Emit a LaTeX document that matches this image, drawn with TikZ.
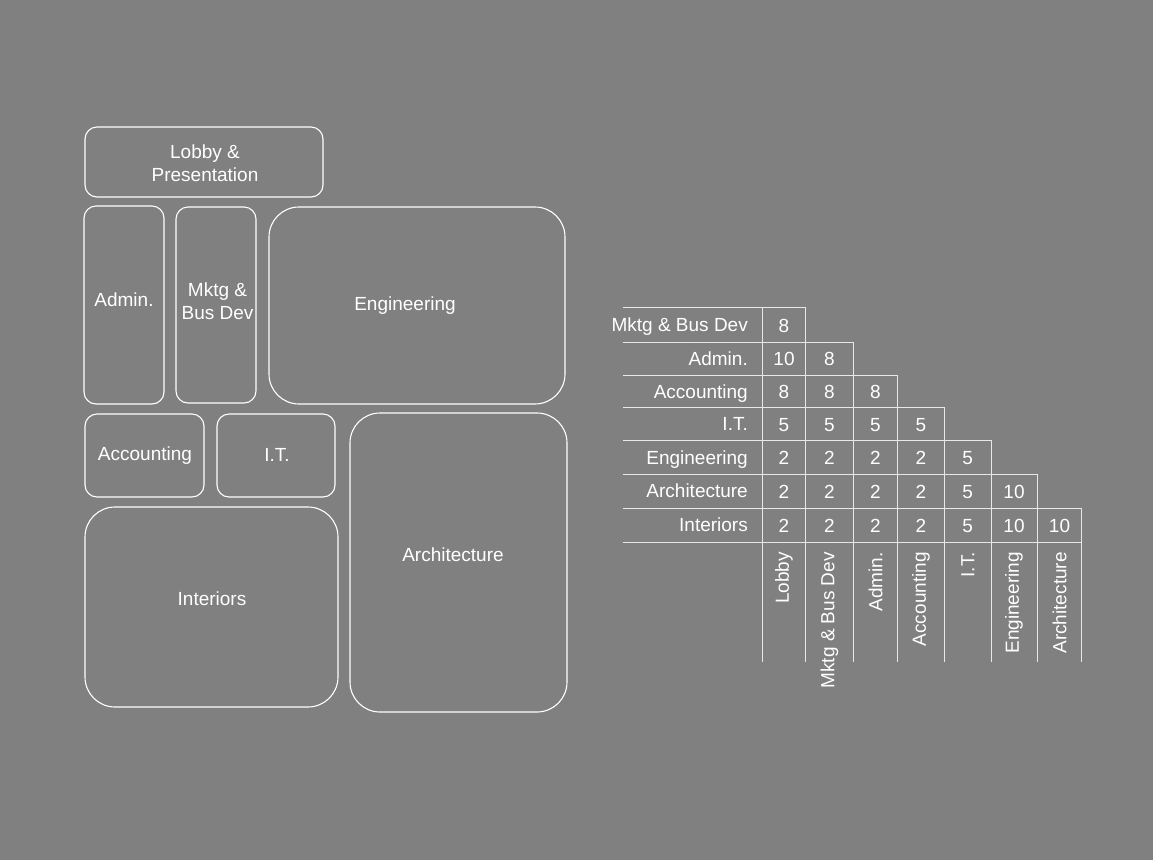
\documentclass[tikz,border=0pt]{standalone}
\usepackage{fontspec}
\setmainfont{Liberation Sans}
\definecolor{bggray}{HTML}{808080}
\definecolor{gridline}{HTML}{E8E8E8}
\tikzset{
  room/.style={draw=white,line width=1.1pt,rounded corners=12pt,inner sep=0pt},
  bigroom/.style={room,rounded corners=30pt},
  roomname/.style={text=white,inner sep=0pt,align=center,font=\fontsize{19}{23}\selectfont},
  cell/.style={text=white,inner sep=1pt,text height=13.6pt,text depth=0pt,font=\fontsize{19}{23}\selectfont}
}
\begin{document}
\begin{tikzpicture}[x=1pt,y=-1pt]
  \fill[bggray] (0,0) rectangle (1153,860);
  \useasboundingbox (0,0) rectangle (1153,860);
  % block plan
  \node[room,minimum width=238pt,minimum height=70pt] (lobby) at (204,162) {};
  \node[room,minimum width=80pt,minimum height=198pt] (admin) at (124,305) {};
  \node[room,minimum width=80pt,minimum height=196pt] (mktg) at (216,305) {};
  \node[bigroom,minimum width=296pt,minimum height=197pt] (eng) at (417,305.5) {};
  \node[room,minimum width=119pt,minimum height=83pt] (acct) at (144.5,455.5) {};
  \node[room,minimum width=118pt,minimum height=83pt] (it) at (276,455.5) {};
  \node[bigroom,minimum width=253pt,minimum height=200pt] (int) at (211.5,607) {};
  \node[bigroom,minimum width=217pt,minimum height=299pt] (arch) at (458.5,562.5) {};
  \node[roomname] (lobbyname) at (205,163.5) {Lobby \&\\Presentation};
  \node[roomname] (adminname) at (124,299.5) {Admin.};
  \node[roomname] (mktgname) at (217.5,301) {Mktg \&\\Bus Dev};
  \node[roomname] (engname) at (405,305.5) {Engineering};
  \node[roomname] (acctname) at (145,455.5) {Accounting};
  \node[roomname] (itname) at (277,454.5) {I.T.};
  \node[roomname] (intname) at (212,598.5) {Interiors};
  \node[roomname] (archname) at (453,554.5) {Architecture};
  % adjacency table
  \begin{scope}[draw=gridline,line width=1pt]
    \draw (623,307.3) -- (805.7,307.3);
    \draw (623,342.3) -- (853.3,342.3);
    \draw (623,375) -- (897.7,375);
    \draw (623,407.3) -- (944.3,407.3);
    \draw (623,440) -- (991,440);
    \draw (623,474.3) -- (1037.3,474.3);
    \draw (623,508.7) -- (1081.7,508.7);
    \draw (623,542.3) -- (1081.7,542.3);
    \draw (762.3,307.3) -- (762.3,662);
    \draw (805.7,307.3) -- (805.7,662);
    \draw (853.3,342.3) -- (853.3,662);
    \draw (897.7,375) -- (897.7,662);
    \draw (944.3,407.3) -- (944.3,662);
    \draw (991,440) -- (991,662);
    \draw (1037.3,474.3) -- (1037.3,662);
    \draw (1081.7,508.7) -- (1081.7,662);
  \end{scope}
  \begin{scope}[every node/.style={cell}]
    \node[anchor=east] (rmktg) at (749,325) {Mktg \& Bus Dev};
    \node[anchor=east] (radmin) at (749,358.7) {Admin.};
    \node[anchor=east] (racct) at (749,391.2) {Accounting};
    \node[anchor=east] (rit) at (749,423.7) {I.T.};
    \node[anchor=east] (reng) at (749,457.2) {Engineering};
    \node[anchor=east] (rarch) at (749,491) {Architecture};
    \node[anchor=east] (rint) at (749,525) {Interiors};
    \node (a11) at (784,326) {8};
    \node (a21) at (784,359) {10};
    \node (a22) at (829.5,359) {8};
    \node (a31) at (784,392) {8};
    \node (a32) at (829.5,392) {8};
    \node (a33) at (875.5,392) {8};
    \node (a41) at (784,424.5) {5};
    \node (a42) at (829.5,424.5) {5};
    \node (a43) at (875.5,424.5) {5};
    \node (a44) at (921,424.5) {5};
    \node (a51) at (784,458) {2};
    \node (a52) at (829.5,458) {2};
    \node (a53) at (875.5,458) {2};
    \node (a54) at (921,458) {2};
    \node (a55) at (967.7,458) {5};
    \node (a61) at (784,492) {2};
    \node (a62) at (829.5,492) {2};
    \node (a63) at (875.5,492) {2};
    \node (a64) at (921,492) {2};
    \node (a65) at (967.7,492) {5};
    \node (a66) at (1014,492) {10};
    \node (a71) at (784,526) {2};
    \node (a72) at (829.5,526) {2};
    \node (a73) at (875.5,526) {2};
    \node (a74) at (921,526) {2};
    \node (a75) at (967.7,526) {5};
    \node (a76) at (1014,526) {10};
    \node (a77) at (1059.5,526) {10};
  \end{scope}
  \begin{scope}[every node/.style={text=white,inner sep=1pt,rotate=90,anchor=east,font=\fontsize{19}{23}\selectfont}]
    \node (clobby) at (784,551) {Lobby};
    \node (cmktg) at (829.5,551) {Mktg \& Bus Dev};
    \node (cadmin) at (875.5,551) {Admin.};
    \node (cacct) at (921,551) {Accounting};
    \node (cit) at (967.7,551) {I.T.};
    \node (ceng) at (1014,551) {Engineering};
    \node (carch) at (1059.5,551) {Architecture};
  \end{scope}
\end{tikzpicture}
\end{document}
